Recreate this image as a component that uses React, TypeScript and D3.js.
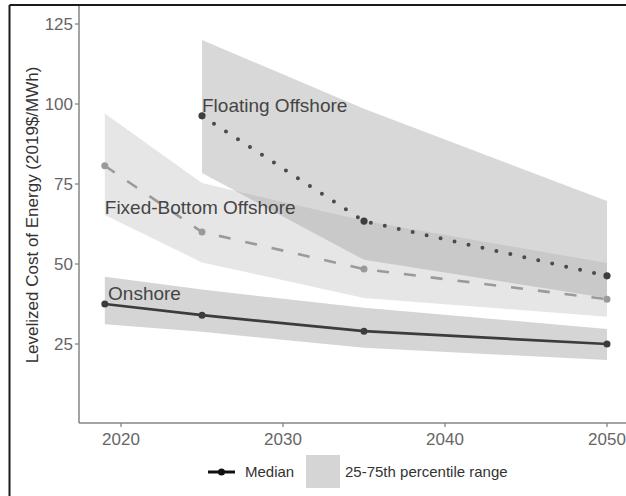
import React from "react";
import * as d3 from "d3";

// Levelized cost of energy projections (2019$/MWh)
const onshoreYears = [2019, 2025, 2035, 2050];
const onshoreMedian = [37.5, 34, 29, 25];
const onshoreP25 = [31.2, 28.8, 23.8, 20];
const onshoreP75 = [46, 42, 36.3, 29.7];

const fixedYears = [2019, 2025, 2035, 2050];
const fixedMedian = [80.7, 60, 48.4, 39];
const fixedP25 = [65.3, 50.5, 39.4, 33.5];
const fixedP75 = [97, 75.3, 63.5, 50.3];

const floatingYears = [2025, 2035, 2050];
const floatingMedian = [96.3, 63.4, 46.3];
const floatingP25 = [78.4, 51.3, 39.4];
const floatingP75 = [120, 98.5, 69.7];

const xTicks = [2020, 2030, 2040, 2050];
const yTicks = [25, 50, 75, 100, 125];

const seriesLabels = [
  { text: "Floating Offshore", year: 2025, value: 97.5 },
  { text: "Fixed-Bottom Offshore", year: 2019, value: 65.6 },
  { text: "Onshore", year: 2019.2, value: 38.8 },
];

const W = 626;
const H = 496;
const FONT = "'Liberation Sans', Arial, Helvetica, sans-serif";

const x = d3.scaleLinear().domain([2020, 2050]).range([121, 607]);
const y = d3.scaleLinear().domain([0, 125]).range([424, 24]);

type Pt = { year: number; mid: number; lo: number; hi: number };

const zipSeries = (yrs: number[], mid: number[], lo: number[], hi: number[]): Pt[] =>
  yrs.map((yr, i) => ({ year: yr, mid: mid[i], lo: lo[i], hi: hi[i] }));

const onshore = zipSeries(onshoreYears, onshoreMedian, onshoreP25, onshoreP75);
const fixed = zipSeries(fixedYears, fixedMedian, fixedP25, fixedP75);
const floating = zipSeries(floatingYears, floatingMedian, floatingP25, floatingP75);

const band = d3
  .area<Pt>()
  .x((d) => x(d.year))
  .y0((d) => y(d.lo))
  .y1((d) => y(d.hi));

const line = d3
  .line<Pt>()
  .x((d) => x(d.year))
  .y((d) => y(d.mid));

const axisX = 79;
const axisY = 423;

export default function App() {
  return (
    <svg
      width={W}
      height={H}
      style={{ position: "absolute", left: 0, top: 0, background: "#fff" }}
      fontFamily={FONT}
    >
      <rect x={0} y={0} width={W} height={H} fill="#fff" />

      {/* percentile ribbons */}
      <path d={band(fixed) ?? ""} fill="#e6e6e6" />
      <path d={band(floating) ?? ""} fill="rgb(157,157,157)" fillOpacity={0.4} />
      <path d={band(onshore) ?? ""} fill="#d5d5d5" />

      {/* median lines */}
      <path
        d={line(fixed) ?? ""}
        fill="none"
        stroke="#9a9a9a"
        strokeWidth={2.6}
        strokeDasharray="12 15"
      />
      <path
        d={line(floating) ?? ""}
        fill="none"
        stroke="#4a4a4a"
        strokeWidth={4}
        strokeLinecap="round"
        strokeDasharray="0 14.3"
      />
      <path
        d={line(onshore) ?? ""}
        fill="none"
        stroke="#3c3c3c"
        strokeWidth={2.7}
        strokeLinejoin="round"
      />

      {fixed.map((d) => (
        <circle key={"fx" + d.year} cx={x(d.year)} cy={y(d.mid)} r={3.5} fill="#9a9a9a" />
      ))}
      {floating.map((d) => (
        <circle key={"fl" + d.year} cx={x(d.year)} cy={y(d.mid)} r={3.6} fill="#3e3e3e" />
      ))}
      {onshore.map((d) => (
        <circle key={"on" + d.year} cx={x(d.year)} cy={y(d.mid)} r={3.5} fill="#3c3c3c" />
      ))}

      {/* series labels */}
      {seriesLabels.map((l) => (
        <text
          key={l.text}
          x={x(l.year)}
          y={y(l.value)}
          fontSize={19}
          fill="#454545"
        >
          {l.text}
        </text>
      ))}

      {/* axes */}
      <line x1={axisX} y1={5} x2={axisX} y2={axisY} stroke="#858585" strokeWidth={1.5} />
      <line x1={axisX} y1={axisY} x2={W} y2={axisY} stroke="#858585" strokeWidth={1.5} />
      {yTicks.map((t) => (
        <g key={"yt" + t}>
          <line x1={axisX - 4} x2={axisX} y1={y(t)} y2={y(t)} stroke="#858585" strokeWidth={1.3} />
          <text
            x={axisX - 6}
            y={y(t)}
            dy="0.36em"
            textAnchor="end"
            fontSize={17}
            fill="#666"
          >
            {t}
          </text>
        </g>
      ))}
      {xTicks.map((t) => (
        <g key={"xt" + t}>
          <line x1={x(t)} x2={x(t)} y1={axisY} y2={axisY + 4} stroke="#858585" strokeWidth={1.3} />
          <text x={x(t)} y={444.5} textAnchor="middle" fontSize={17} fill="#666">
            {t}
          </text>
        </g>
      ))}
      <text
        transform={`translate(37.5, 215) rotate(-90)`}
        textAnchor="middle"
        fontSize={17}
        fill="#333"
      >
        Levelized Cost of Energy (2019$/MWh)
      </text>

      {/* legend */}
      <line x1={208} x2={235} y1={472} y2={472} stroke="#111" strokeWidth={3} />
      <circle cx={221.5} cy={472} r={3.5} fill="#111" />
      <text x={245} y={472} dy="0.36em" fontSize={15} fill="#333">
        Median
      </text>
      <rect x={306} y={455} width={34} height={33} fill="#d5d5d5" />
      <text x={345} y={472} dy="0.36em" fontSize={15} fill="#333">
        25-75th percentile range
      </text>

      {/* figure frame */}
      <line x1={9.5} y1={5} x2={9.5} y2={H} stroke="#1a1a1a" strokeWidth={2} />
      <line x1={9.5} y1={5} x2={W} y2={5} stroke="#1a1a1a" strokeWidth={2} />
    </svg>
  );
}
